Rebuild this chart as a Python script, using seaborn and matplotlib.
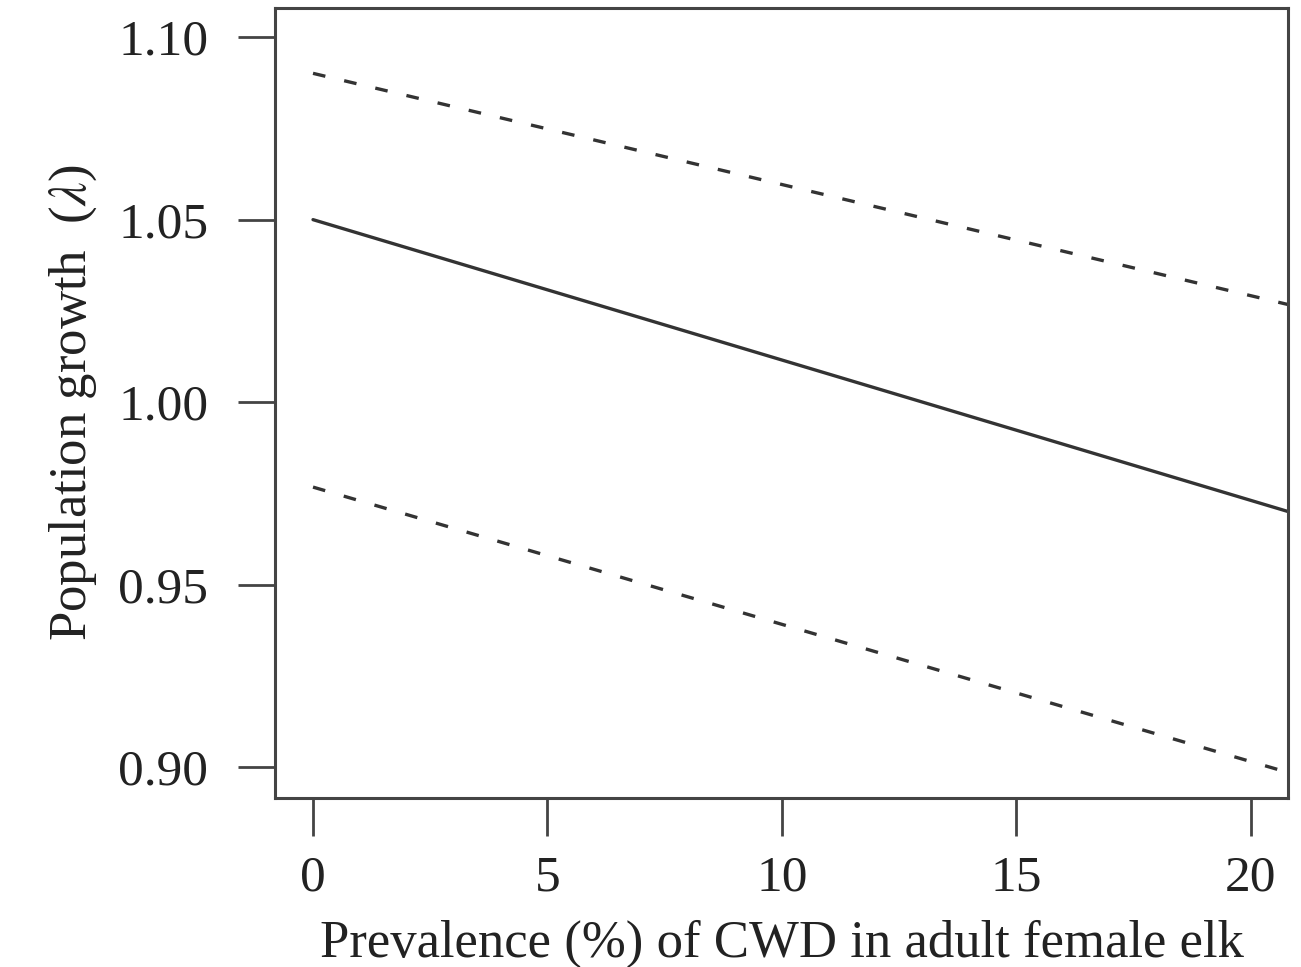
import numpy as np
import pandas as pd
import matplotlib
matplotlib.use("Agg")
import matplotlib.pyplot as plt
import seaborn as sns

# values (prevalence in %, lambda)
prevalence = [0, 21]
lam_mean = [1.050, 0.9692]
lam_upper = [1.0901, 1.0261]
lam_lower = [0.9767, 0.8977]

x_ticks = [0, 5, 10, 15, 20]
y_ticks = [0.90, 0.95, 1.00, 1.05, 1.10]
y_tick_labels = ["0.90", "0.95", "1.00", "1.05", "1.10"]

df = pd.DataFrame({"prev": prevalence, "mean": lam_mean,
                   "upper": lam_upper, "lower": lam_lower})

sns.set_theme(style="white")
plt.rcParams["font.family"] = ["Liberation Serif", "DejaVu Serif"]
plt.rcParams["mathtext.fontset"] = "stix"

line_col = "#333333"
fig = plt.figure(figsize=(13.01, 9.67), dpi=100)
ax = fig.add_axes([0.2114, 0.1748, 0.990 - 0.2114, 0.9917 - 0.1748])

sns.lineplot(data=df, x="prev", y="mean", ax=ax, color=line_col, lw=2.4)
sns.lineplot(data=df, x="prev", y="upper", ax=ax, color=line_col, lw=2.4,
             dashes=False, linestyle=(0, (3.8, 5.8)))
sns.lineplot(data=df, x="prev", y="lower", ax=ax, color=line_col, lw=2.4,
             dashes=False, linestyle=(0, (3.8, 5.8)))

ax.set_xlim(-0.81, 20.79)
ax.set_ylim(0.8915, 1.108)
ax.set_xticks(x_ticks)
ax.set_yticks(y_ticks)
ax.set_yticklabels(y_tick_labels)

for s in ax.spines.values():
    s.set_visible(True)
    s.set_color("#444444")
    s.set_linewidth(2.2)

ax.tick_params(axis="both", direction="out", length=27, width=2.0,
               color="#444444", labelcolor="#222222", labelsize=37,
               bottom=True, left=True)
ax.tick_params(axis="y", pad=21)
ax.tick_params(axis="x", pad=14)

ax.set_xlabel("Prevalence (%) of CWD in adult female elk", fontsize=38,
              color="#222222", labelpad=13)
ax.set_ylabel("Population growth  ($\\lambda$)", fontsize=38, color="#222222",
              labelpad=14)

fig.savefig("out.png", dpi=100)
